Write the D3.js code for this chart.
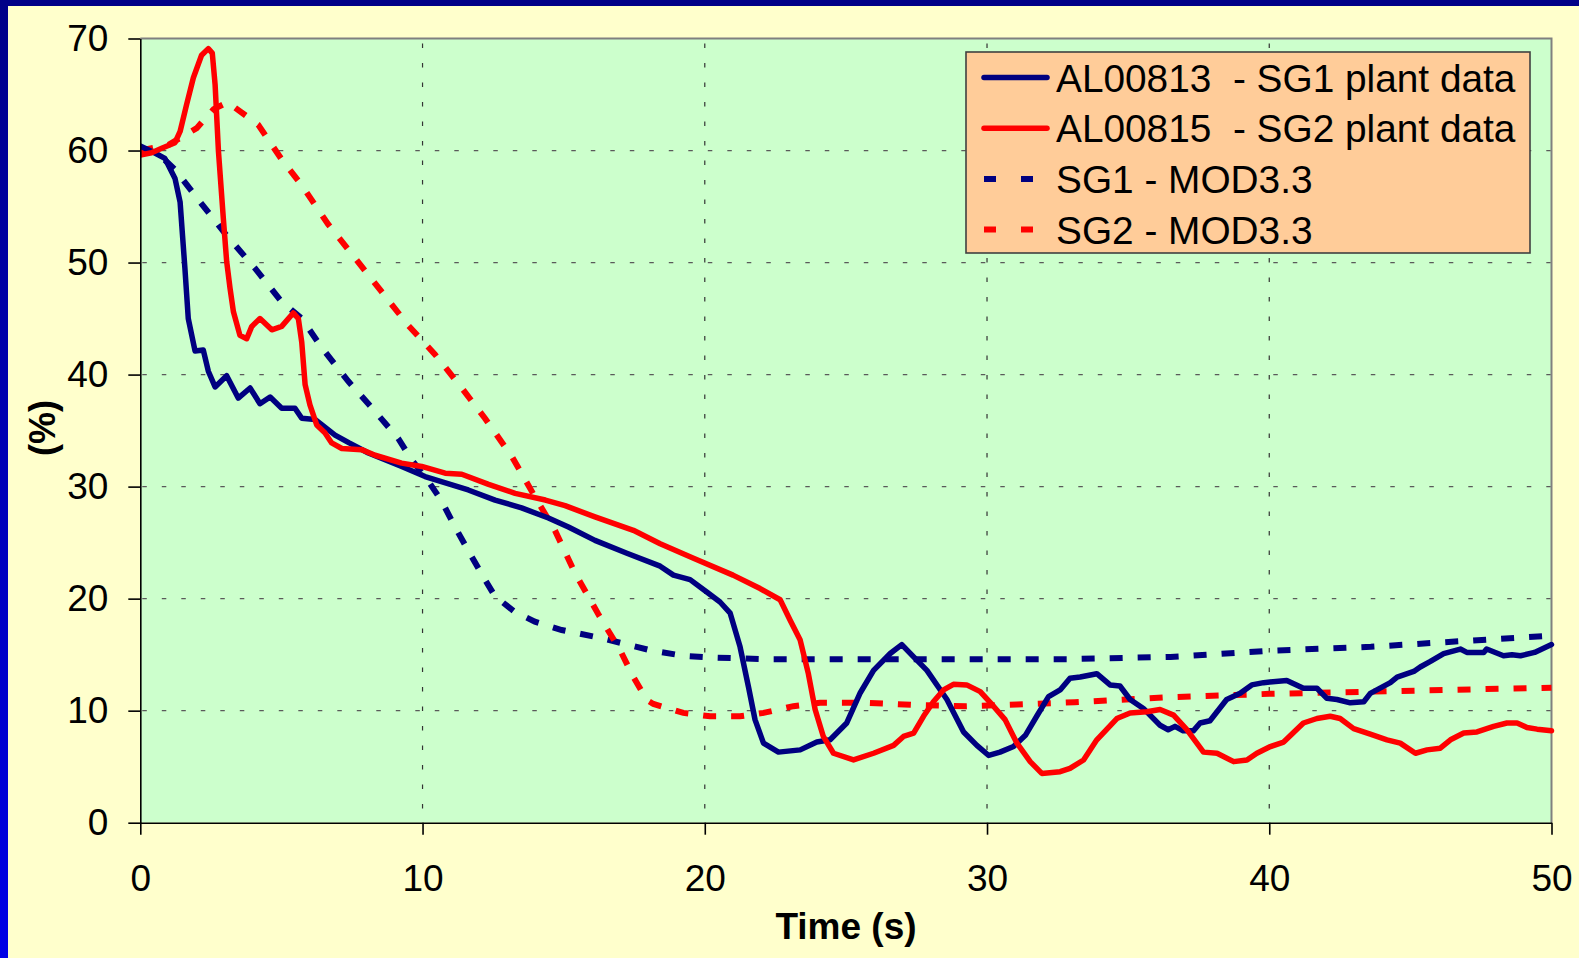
<!DOCTYPE html>
<html>
<head>
<meta charset="utf-8">
<script src="https://cdn.jsdelivr.net/npm/d3@7"></script>
<style>
  body { margin: 0; background: #ffffcc; }
  svg { display: block; }
  text { font-family: 'Liberation Sans', Arial, sans-serif; }
</style>
</head>
<body>
<svg></svg>
<script>
// [time (s), level (%)]
const sg1Plant = [[0,60.4],[0.5,59.8],[0.87,59.3],[1.23,57.5],[1.41,55.4],[1.58,49.5],[1.7,45.0],[1.94,42.1],[2.23,42.2],[2.41,40.3],[2.65,38.9],[3.06,39.9],[3.47,37.9],[3.89,38.8],[4.24,37.4],[4.6,38.0],[5.01,37.0],[5.48,37.0],[5.72,36.1],[6.19,36.0],[6.9,34.6],[7.4,33.9],[8.08,33.0],[9.26,31.8],[10.09,30.9],[11.62,29.7],[12.57,28.8],[13.51,28.1],[14.46,27.2],[15.17,26.4],[16.11,25.2],[17.24,24.05],[18.42,22.9],[18.89,22.1],[19.48,21.7],[20.07,20.6],[20.54,19.7],[20.9,18.7],[21.25,15.7],[21.55,12.1],[21.78,9.2],[22.08,7.1],[22.61,6.3],[23.38,6.5],[23.97,7.2],[24.44,7.4],[25.03,8.9],[25.51,11.6],[25.98,13.6],[26.57,15.1],[26.98,15.9],[27.4,14.8],[27.87,13.6],[28.58,11.0],[29.17,8.1],[29.64,6.9],[30.06,6.0],[30.46,6.3],[30.94,6.8],[31.36,7.8],[31.76,9.5],[32.18,11.25],[32.59,11.85],[32.94,12.9],[33.3,13.0],[33.89,13.3],[34.36,12.3],[34.71,12.2],[35.07,11.0],[35.54,10.2],[36.13,8.7],[36.42,8.3],[36.66,8.6],[36.95,8.2],[37.31,8.2],[37.55,8.9],[37.9,9.1],[38.49,11.0],[38.97,11.55],[39.38,12.3],[39.8,12.5],[40.62,12.7],[41.21,12.0],[41.69,12.0],[42.04,11.1],[42.4,11.0],[42.87,10.7],[43.35,10.8],[43.58,11.55],[44.29,12.5],[44.53,13.0],[45.12,13.5],[45.35,13.9],[45.71,14.4],[46.18,15.1],[46.77,15.5],[47.0,15.2],[47.6,15.2],[47.7,15.5],[48.3,14.9],[48.6,15.0],[48.9,14.9],[49.4,15.2],[50,15.9]];

const sg2Plant = [[0,59.6],[0.4,59.8],[0.76,60.2],[1.23,60.7],[1.41,61.7],[1.64,64.1],[1.88,66.5],[2.17,68.5],[2.41,69.1],[2.55,68.7],[2.65,65.9],[2.77,59.9],[2.94,54.0],[3.06,50.1],[3.18,47.7],[3.3,45.6],[3.53,43.5],[3.77,43.2],[3.95,44.3],[4.24,45.0],[4.66,44.0],[5.01,44.3],[5.42,45.5],[5.6,45.0],[5.72,42.9],[5.84,39.1],[6.01,37.3],[6.25,35.5],[6.54,34.8],[6.78,33.9],[7.14,33.4],[7.84,33.3],[8.32,32.8],[9.26,32.1],[9.97,31.8],[10.8,31.2],[11.39,31.1],[12.34,30.2],[13.28,29.4],[14.35,28.8],[15.05,28.3],[16.11,27.3],[17.47,26.1],[18.42,24.9],[19.6,23.6],[21.0,22.1],[21.96,20.9],[22.67,19.9],[23.02,18.1],[23.38,16.3],[23.67,13.3],[23.91,10.1],[24.2,7.7],[24.56,6.2],[25.27,5.6],[25.98,6.2],[26.69,6.9],[27.04,7.7],[27.4,8.0],[27.75,9.5],[28.1,10.8],[28.46,11.85],[28.81,12.35],[29.28,12.3],[29.76,11.7],[30.23,10.4],[30.64,9.2],[31.06,7.1],[31.53,5.45],[31.94,4.4],[32.59,4.55],[32.94,4.85],[33.42,5.6],[33.89,7.4],[34.6,9.3],[35.07,9.8],[35.66,9.9],[36.13,10.1],[36.61,9.6],[37.08,8.3],[37.67,6.3],[38.15,6.2],[38.74,5.45],[39.21,5.6],[39.56,6.2],[40.04,6.8],[40.51,7.2],[41.21,8.9],[41.69,9.3],[42.16,9.5],[42.51,9.3],[42.99,8.4],[43.58,7.9],[44.17,7.4],[44.64,7.1],[45.18,6.2],[45.59,6.5],[46.06,6.65],[46.42,7.4],[46.89,8.0],[47.36,8.1],[47.95,8.6],[48.42,8.9],[48.78,8.9],[49.13,8.5],[49.49,8.35],[50,8.2]];

const sg1Model = [[0,60.2],[0.6,59.8],[1.23,58.3],[2.06,55.6],[3.0,52.6],[4.06,49.5],[5.01,46.5],[5.72,45.0],[6.43,42.4],[7.37,39.4],[8.32,36.7],[9.14,34.3],[9.61,32.4],[10.2,30.5],[10.68,28.7],[11.15,26.4],[11.74,23.75],[12.21,21.7],[12.57,20.2],[13.28,18.8],[13.98,17.95],[14.93,17.2],[16.3,16.5],[18.06,15.4],[19.24,14.9],[20.19,14.75],[22.2,14.6],[25.7,14.6],[29.3,14.6],[32.9,14.6],[36.5,14.8],[40.0,15.35],[43.6,15.7],[47.1,16.25],[50,16.7]];

const sg2Model = [[0,60.0],[1.0,60.5],[2.0,62.0],[2.6,63.7],[3.1,64.3],[4.18,62.3],[5.01,59.2],[5.72,56.9],[6.66,53.4],[7.61,50.4],[8.55,47.4],[9.49,44.4],[10.44,41.8],[11.39,38.8],[12.21,36.1],[13.16,32.7],[13.98,29.1],[14.69,26.1],[15.4,22.3],[16.23,18.6],[17.0,15.4],[17.47,13.0],[17.95,10.95],[18.18,10.6],[19.24,9.8],[20.19,9.5],[21.25,9.5],[22.08,9.8],[23.14,10.4],[24.08,10.7],[25.74,10.7],[27.51,10.5],[29.28,10.4],[31.06,10.55],[33.1,10.75],[36.48,11.2],[40.0,11.5],[43.58,11.7],[47.12,11.9],[50,12.05]];

const xTicks = [0, 10, 20, 30, 40, 50];
const yTicks = [0, 10, 20, 30, 40, 50, 60, 70];
const seriesNames = ['AL00813  - SG1 plant data', 'AL00815  - SG2 plant data', 'SG1 - MOD3.3', 'SG2 - MOD3.3'];

let width = 1579;
let height = 958;
let plotLeft = 140.3, plotRight = 1551.5, plotTop = 38.5, plotBottom = 822.7;

let svg = d3.select('svg')
            .attr('width', width)
            .attr('height', height);

let defs = svg.append('defs');
let grad = defs.append('linearGradient')
               .attr('id', 'band')
               .attr('x1', 0).attr('y1', 0).attr('x2', 0).attr('y2', 1);
grad.append('stop').attr('offset', '0%').attr('stop-color', '#000088');
grad.append('stop').attr('offset', '100%').attr('stop-color', '#0000e6');

svg.append('rect').attr('width', width).attr('height', height).attr('fill', '#ffffcc');
svg.append('rect').attr('x', 0).attr('y', 0).attr('width', 8).attr('height', height).attr('fill', 'url(#band)');
svg.append('rect').attr('x', 0).attr('y', 0).attr('width', width).attr('height', 6).attr('fill', '#000088');

let xScale = d3.scaleLinear().domain([0, 50]).range([plotLeft, plotRight]);
let yScale = d3.scaleLinear().domain([0, 70]).range([plotBottom, plotTop]);

// plot area
svg.append('rect')
   .attr('x', plotLeft).attr('y', plotTop)
   .attr('width', plotRight - plotLeft).attr('height', plotBottom - plotTop)
   .attr('fill', '#ccffcc');

// grid
svg.append('g')
   .selectAll('line')
   .data(yTicks.filter(d => d > 0 && d < 70))
   .enter()
   .append('line')
   .attr('x1', plotLeft + 2).attr('x2', plotRight)
   .attr('y1', d => yScale(d)).attr('y2', d => yScale(d))
   .attr('stroke', '#5a5a5a')
   .attr('stroke-width', 1.2)
   .attr('stroke-dasharray', '4.5,15');

svg.append('g')
   .selectAll('line')
   .data(xTicks.filter(d => d > 0 && d < 50))
   .enter()
   .append('line')
   .attr('x1', d => xScale(d)).attr('x2', d => xScale(d))
   .attr('y1', plotTop + 5).attr('y2', plotBottom)
   .attr('stroke', '#333')
   .attr('stroke-width', 1.2)
   .attr('stroke-dasharray', '4.5,15');

// frame top/right
svg.append('path')
   .attr('d', `M${plotLeft},${plotTop}H${plotRight}V${plotBottom}`)
   .attr('fill', 'none')
   .attr('stroke', '#808080')
   .attr('stroke-width', 2);

let line = d3.line()
             .x(d => xScale(d[0]))
             .y(d => yScale(d[1]));

svg.append('clipPath').attr('id', 'clip')
   .append('rect').attr('x', plotLeft).attr('y', plotTop).attr('width', plotRight - plotLeft + 4).attr('height', plotBottom - plotTop);

let plot = svg.append('g').attr('clip-path', 'url(#clip)');

plot.append('path').datum(sg1Model)
    .attr('d', line).attr('fill', 'none')
    .attr('stroke', '#000080').attr('stroke-width', 6)
    .attr('stroke-dasharray', '13,15');

plot.append('path').datum(sg2Model)
    .attr('d', line).attr('fill', 'none')
    .attr('stroke', '#ff0000').attr('stroke-width', 6)
    .attr('stroke-dasharray', '13,15');

plot.append('path').datum(sg1Plant)
    .attr('d', line).attr('fill', 'none')
    .attr('stroke', '#000080').attr('stroke-width', 5.5)
    .attr('stroke-linejoin', 'round').attr('stroke-linecap', 'round');

plot.append('path').datum(sg2Plant)
    .attr('d', line).attr('fill', 'none')
    .attr('stroke', '#ff0000').attr('stroke-width', 5.5)
    .attr('stroke-linejoin', 'round').attr('stroke-linecap', 'round');

// axes
let xAxis = d3.axisBottom(xScale).tickValues(xTicks).tickSize(12).tickSizeOuter(0);
let yAxis = d3.axisLeft(yScale).tickValues(yTicks).tickSize(12).tickSizeOuter(0).tickPadding(20);

let gx = svg.append('g')
            .attr('transform', `translate(0,${plotBottom})`)
            .call(xAxis);
gx.selectAll('text')
  .attr('y', 68).attr('dy', 0)
  .style('font-size', '37px').attr('fill', '#000');

let gy = svg.append('g')
            .attr('transform', `translate(${plotLeft},0)`)
            .call(yAxis);
gy.selectAll('text')
  .style('font-size', '37px').attr('fill', '#000');

svg.selectAll('.domain, .tick line')
   .attr('stroke', '#000')
   .attr('stroke-width', 1.6);

svg.append('text')
   .attr('x', 846)
   .attr('y', 939)
   .style('font-size', '37px')
   .style('font-weight', 'bold')
   .style('text-anchor', 'middle')
   .text('Time (s)');

svg.append('text')
   .attr('transform', 'rotate(-90)')
   .attr('x', -428)
   .attr('y', 55)
   .style('font-size', '36px')
   .style('font-weight', 'bold')
   .style('text-anchor', 'middle')
   .text('(%)');

// legend
let legend = svg.append('g');
legend.append('rect')
      .attr('x', 966).attr('y', 52)
      .attr('width', 564).attr('height', 201)
      .attr('fill', '#ffcc99')
      .attr('stroke', '#404040')
      .attr('stroke-width', 1.6);

let colors = ['#000080', '#ff0000', '#000080', '#ff0000'];
let rows = legend.selectAll('.row')
                 .data(seriesNames)
                 .enter()
                 .append('g')
                 .attr('transform', (d, i) => `translate(0,${77.5 + i * 50.7})`);

rows.append('line')
    .attr('x1', 984)
    .attr('x2', 1047)
    .attr('stroke', (d, i) => colors[i])
    .attr('stroke-width', (d, i) => i < 2 ? 5.5 : 6)
    .attr('stroke-linecap', (d, i) => i < 2 ? 'round' : 'butt')
    .attr('stroke-dasharray', (d, i) => i < 2 ? null : '12,25');

rows.append('text')
    .attr('x', 1056)
    .attr('y', 14)
    .style('font-size', '38.8px')
    .style('white-space', 'pre')
    .text(d => d);
</script>
</body>
</html>
